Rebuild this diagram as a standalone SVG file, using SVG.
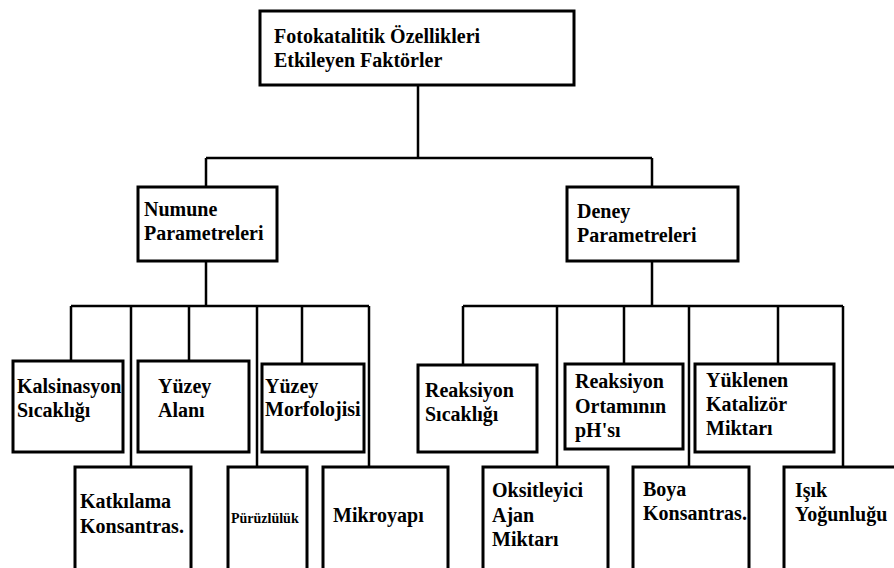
<svg xmlns="http://www.w3.org/2000/svg" width="894" height="568" viewBox="0 0 894 568">
<style>
.box{fill:#fff;stroke:#000;stroke-width:3}
.ln{stroke:#000;stroke-width:2.5;fill:none}
text{font-family:"Liberation Serif","Times New Roman",serif;font-weight:bold;font-size:20px;fill:#000}
.sm{font-size:14px}
</style>
<rect width="894" height="568" fill="#fff"/>
<g id="connectors">
<path class="ln" d="M418 85V158M206 158H652M206 158V187M652 158V187"/>
<path class="ln" d="M206 261V306M71 306H369M71 306V361M131 306V467M189 306V361M257 306V467M302 306V364M369 306V467"/>
<path class="ln" d="M652 261V306M463 306H843M463 306V365M557 306V467M624 306V364M689 306V467M778 306V364M843 306V467"/>
</g>
<g id="root"><rect class="box" x="260" y="11" width="314" height="74"/><text x="274" y="43">Fotokatalitik Özellikleri</text><text x="274" y="67">Etkileyen Faktörler</text></g>
<g id="numune"><rect class="box" x="138" y="187" width="139" height="74"/><text x="144" y="216">Numune</text><text x="144" y="240">Parametreleri</text></g>
<g id="deney"><rect class="box" x="567" y="187" width="171" height="74"/><text x="577" y="218">Deney</text><text x="577" y="242">Parametreleri</text></g>
<g id="kalsinasyon"><rect class="box" x="13" y="361" width="110" height="91"/><text x="17" y="393">Kalsinasyon</text><text x="17" y="417">Sıcaklığı</text></g>
<g id="yuzey-alani"><rect class="box" x="138" y="361" width="111" height="91"/><text x="158" y="393">Yüzey</text><text x="158" y="417">Alanı</text></g>
<g id="yuzey-morfolojisi"><rect class="box" x="262" y="364" width="102" height="88"/><text x="265" y="393">Yüzey</text><text x="265" y="416">Morfolojisi</text></g>
<g id="katkilama"><rect class="box" x="75" y="467" width="116" height="115"/><text x="80" y="508">Katkılama</text><text x="80" y="533">Konsantras.</text></g>
<g id="puruzluluk"><rect class="box" x="228" y="467" width="79" height="115"/><text class="sm" x="231" y="523">Pürüzlülük</text></g>
<g id="mikroyapi"><rect class="box" x="323" y="467" width="125" height="115"/><text x="333" y="522">Mikroyapı</text></g>
<g id="reaksiyon-sicakligi"><rect class="box" x="418" y="365" width="119" height="87"/><text x="425" y="397">Reaksiyon</text><text x="425" y="421">Sıcaklığı</text></g>
<g id="reaksiyon-ph"><rect class="box" x="565" y="364" width="118" height="85"/><text x="575" y="388">Reaksiyon</text><text x="575" y="413">Ortamının</text><text x="575" y="437">pH'sı</text></g>
<g id="yuklenen"><rect class="box" x="695" y="364" width="139" height="88"/><text x="706" y="387">Yüklenen</text><text x="706" y="411">Katalizör</text><text x="706" y="435">Miktarı</text></g>
<g id="oksitleyici"><rect class="box" x="483" y="467" width="125" height="115"/><text x="492" y="497">Oksitleyici</text><text x="492" y="522">Ajan</text><text x="492" y="546">Miktarı</text></g>
<g id="boya"><rect class="box" x="633" y="467" width="116" height="115"/><text x="643" y="496">Boya</text><text x="643" y="520">Konsantras.</text></g>
<g id="isik"><rect class="box" x="784" y="467" width="130" height="115"/><text x="795" y="497">Işık</text><text x="795" y="521">Yoğunluğu</text></g>
</svg>
